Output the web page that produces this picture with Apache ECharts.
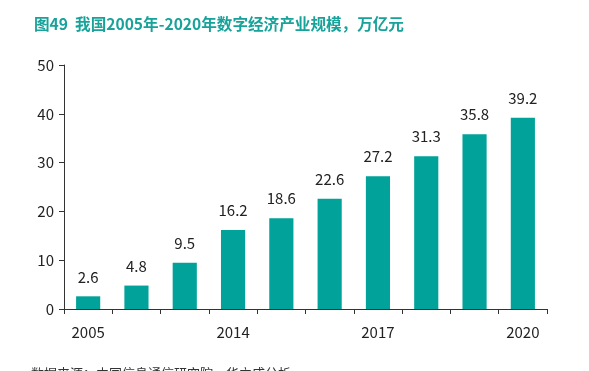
<!DOCTYPE html>
<html><head><meta charset="utf-8">
<script src="https://cdn.jsdelivr.net/npm/echarts@6/dist/echarts.min.js"></script>
<style>html,body{margin:0;padding:0;background:#fff;}#c{width:589px;height:371px;}</style>
</head><body><div id="c"></div>
<script>
const categories = ['2005','2008','2011','2014','2015','2016','2017','2018','2019','2020'];
const values = [2.6, 4.8, 9.5, 16.2, 18.6, 22.6, 27.2, 31.3, 35.8, 39.2];
const titleText = '图49  我国2005年-2020年数字经济产业规模，万亿元';
const sourceText = '数据来源：中国信息通信研究院，华立成分析';
const chart = echarts.init(document.getElementById('c'));
const font = '"Noto Sans CJK SC","Noto Sans",sans-serif';
chart.setOption({
  animation:false,
  title:[{text:titleText,left:29,top:11,textStyle:{color:'#17a29a',fontSize:15.6,fontWeight:'bold',fontFamily:font}},
         {text:sourceText,left:26,top:362,textStyle:{color:'#333',fontSize:13,fontWeight:'normal',fontFamily:font}}],
  grid:{left:64,right:42,top:65,bottom:62},
  xAxis:{type:'category',data:categories,
    axisLine:{lineStyle:{color:'#333',width:1}},
    axisTick:{show:true,alignWithLabel:false,interval:0,length:5,lineStyle:{color:'#333'}},
    axisLabel:{interval:2,color:'#222',fontSize:15,margin:16,fontFamily:font}},
  yAxis:{type:'value',min:0,max:50,interval:10,
    axisLine:{show:true,lineStyle:{color:'#333'}},
    axisTick:{show:true,length:5,lineStyle:{color:'#333'}},
    splitLine:{show:false},
    axisLabel:{color:'#222',fontSize:15,margin:10,fontFamily:font}},
  series:[{type:'bar',data:values,barWidth:'50%',itemStyle:{color:'#00a29a'},
    label:{show:true,position:'top',distance:12,color:'#222',fontSize:15,fontFamily:font}}]
});
</script></body></html>
